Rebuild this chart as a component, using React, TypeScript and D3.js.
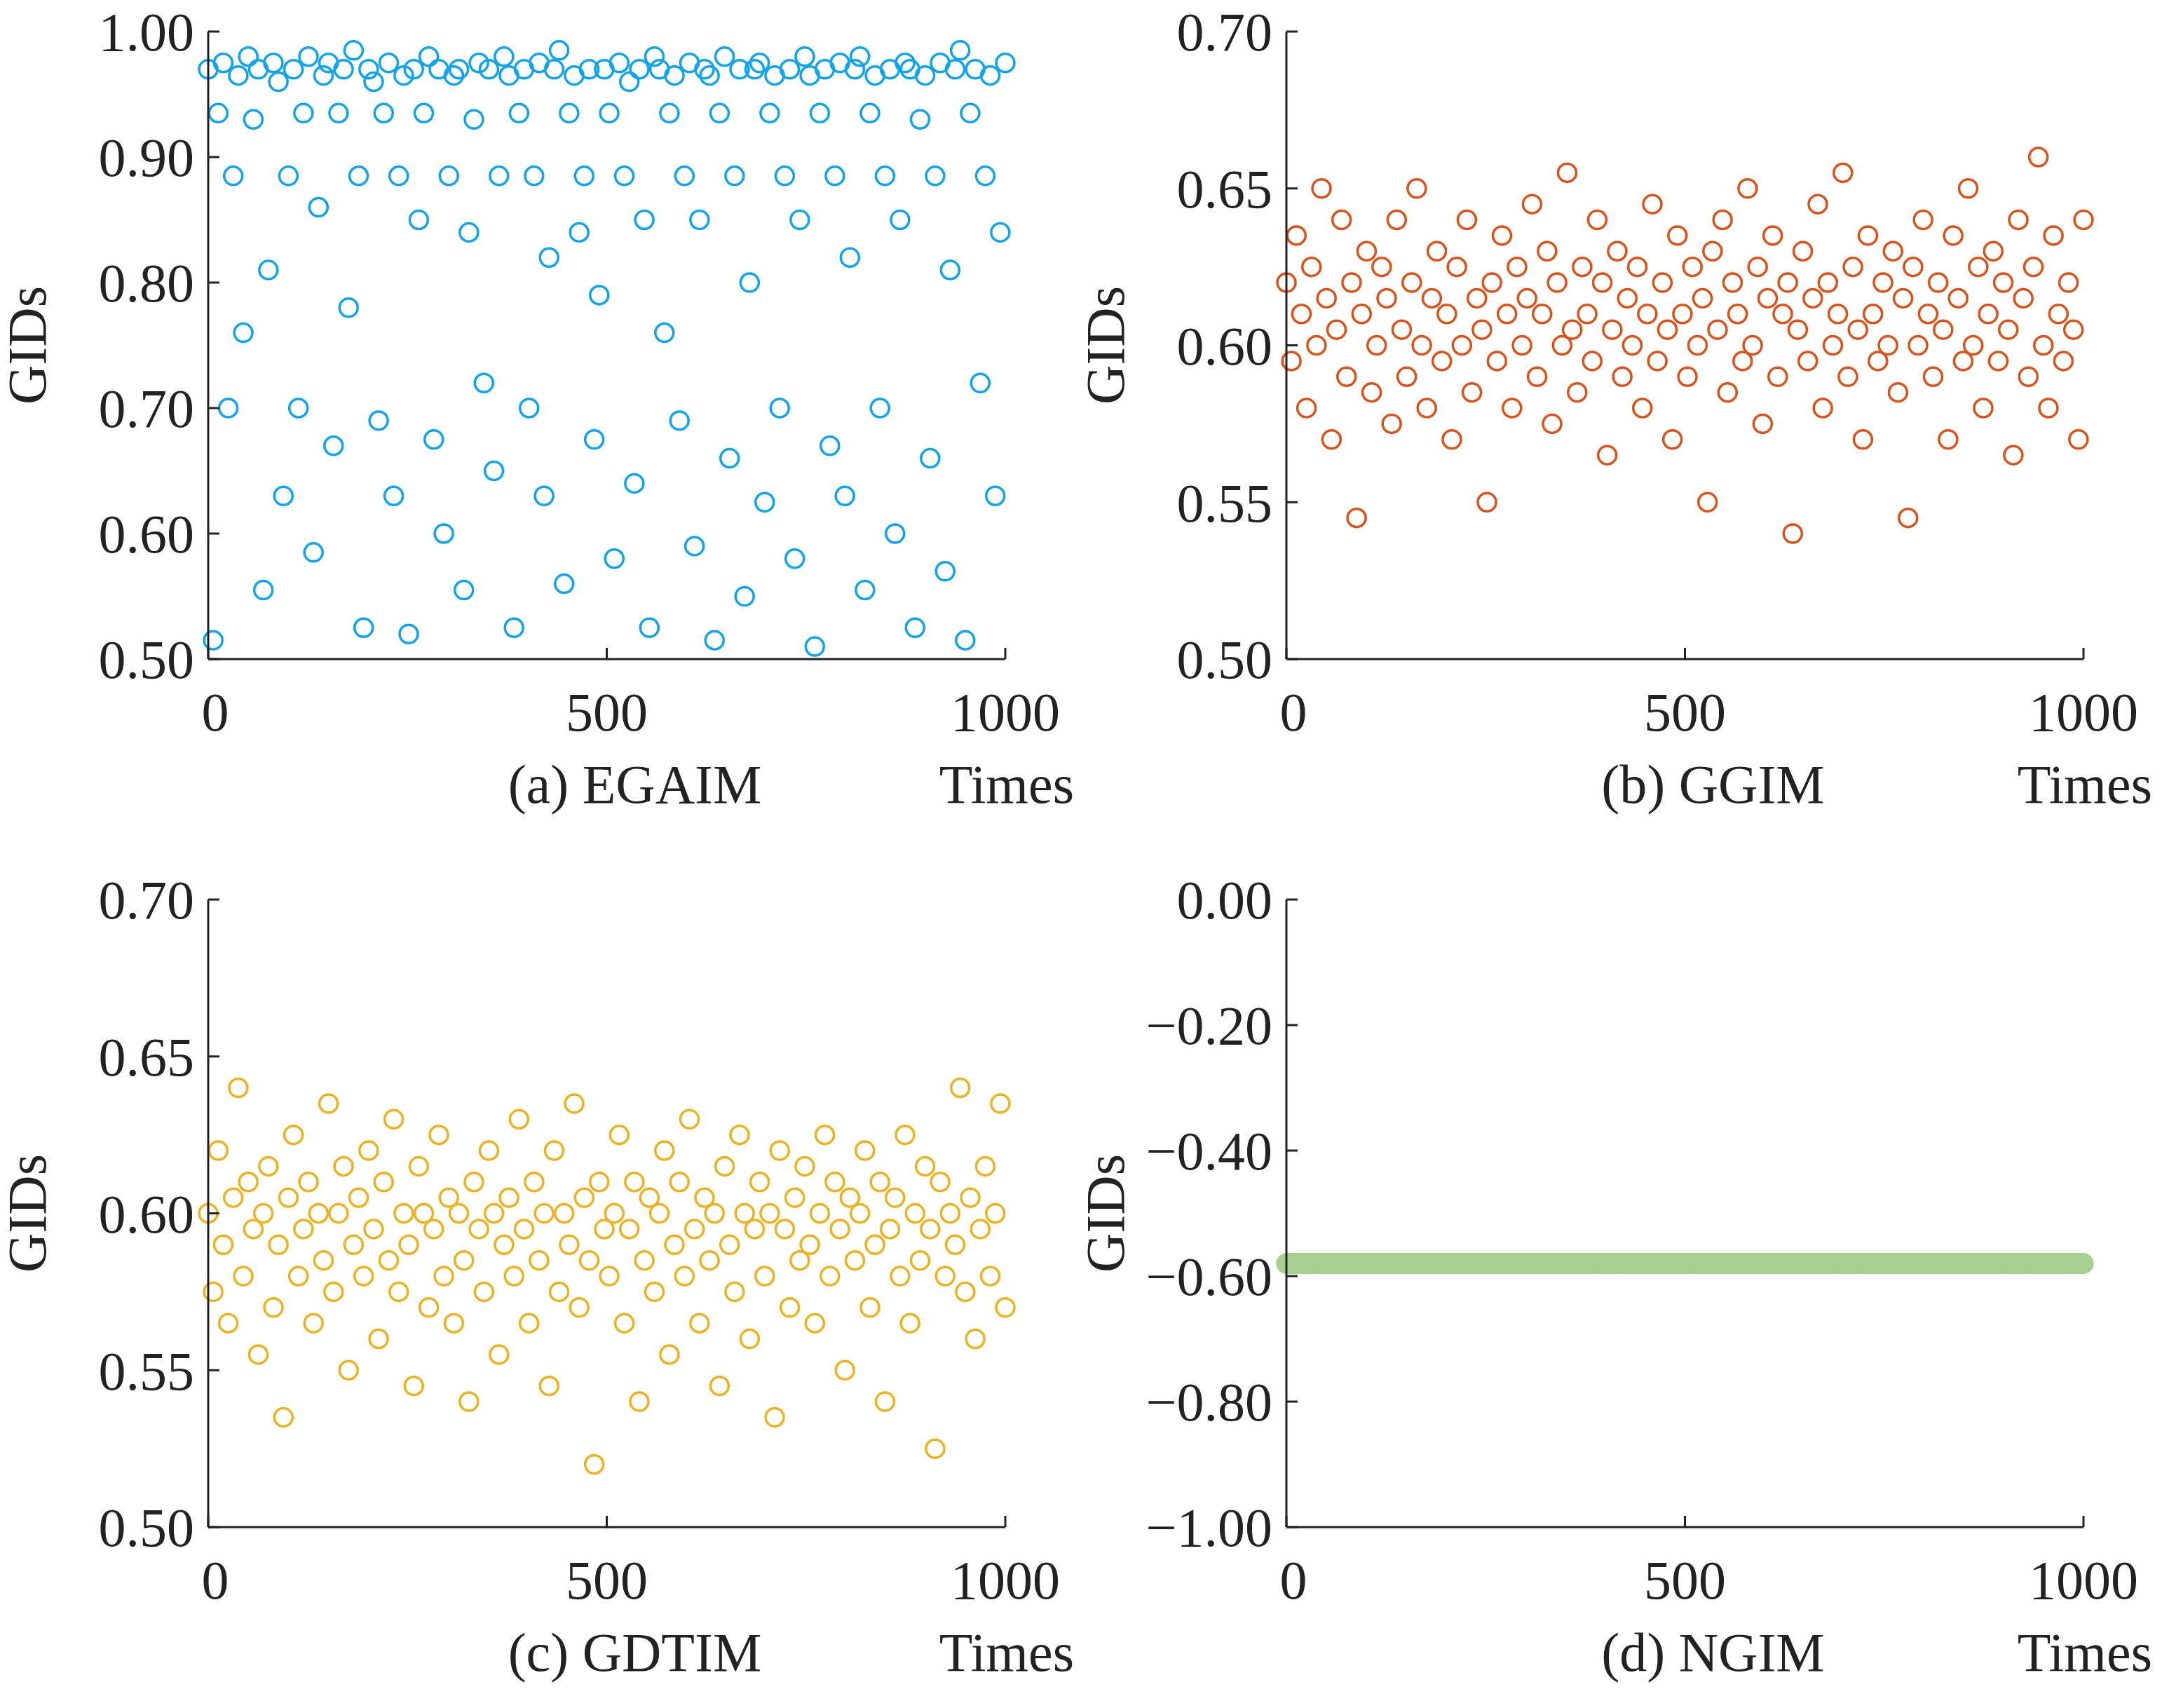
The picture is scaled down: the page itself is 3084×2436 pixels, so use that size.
import React from 'react';
import * as d3 from 'd3';

const EGAIM = [0.97,0.515,0.935,0.975,0.70,0.885,0.965,0.76,0.98,0.93,
0.97,0.555,0.81,0.975,0.96,0.63,0.885,0.97,0.70,0.935,
0.98,0.585,0.86,0.965,0.975,0.67,0.935,0.97,0.78,0.985,
0.885,0.525,0.97,0.96,0.69,0.935,0.975,0.63,0.885,0.965,
0.52,0.97,0.85,0.935,0.98,0.675,0.97,0.60,0.885,0.965,
0.97,0.555,0.84,0.93,0.975,0.72,0.97,0.65,0.885,0.98,
0.965,0.525,0.935,0.97,0.70,0.885,0.975,0.63,0.82,0.97,
0.985,0.56,0.935,0.965,0.84,0.885,0.97,0.675,0.79,0.97,
0.935,0.58,0.975,0.885,0.96,0.64,0.97,0.85,0.525,0.98,
0.97,0.76,0.935,0.965,0.69,0.885,0.975,0.59,0.85,0.97,
0.965,0.515,0.935,0.98,0.66,0.885,0.97,0.55,0.80,0.97,
0.975,0.625,0.935,0.965,0.70,0.885,0.97,0.58,0.85,0.98,
0.965,0.51,0.935,0.97,0.67,0.885,0.975,0.63,0.82,0.97,
0.98,0.555,0.935,0.965,0.70,0.885,0.97,0.60,0.85,0.975,
0.97,0.525,0.93,0.965,0.66,0.885,0.975,0.57,0.81,0.97,
0.985,0.515,0.935,0.97,0.72,0.885,0.965,0.63,0.84,0.975];

const GGIM = [0.62,0.595,0.635,0.61,0.58,0.625,0.60,0.65,0.615,0.57,
0.605,0.64,0.59,0.62,0.545,0.61,0.63,0.585,0.60,0.625,
0.615,0.575,0.64,0.605,0.59,0.62,0.65,0.60,0.58,0.615,
0.63,0.595,0.61,0.57,0.625,0.60,0.64,0.585,0.615,0.605,
0.55,0.62,0.595,0.635,0.61,0.58,0.625,0.60,0.615,0.645,
0.59,0.61,0.63,0.575,0.62,0.60,0.655,0.605,0.585,0.625,
0.61,0.595,0.64,0.62,0.565,0.605,0.63,0.59,0.615,0.60,
0.625,0.58,0.61,0.645,0.595,0.62,0.605,0.57,0.635,0.61,
0.59,0.625,0.60,0.615,0.55,0.63,0.605,0.64,0.585,0.62,
0.61,0.595,0.65,0.60,0.625,0.575,0.615,0.635,0.59,0.61,
0.62,0.54,0.605,0.63,0.595,0.615,0.645,0.58,0.62,0.60,
0.61,0.655,0.59,0.625,0.605,0.57,0.635,0.61,0.595,0.62,
0.60,0.63,0.585,0.615,0.545,0.625,0.60,0.64,0.61,0.59,
0.62,0.605,0.57,0.635,0.615,0.595,0.65,0.60,0.625,0.58,
0.61,0.63,0.595,0.62,0.605,0.565,0.64,0.615,0.59,0.625,
0.66,0.60,0.58,0.635,0.61,0.595,0.62,0.605,0.57,0.64];

const GDTIM = [0.60,0.575,0.62,0.59,0.565,0.605,0.64,0.58,0.61,0.595,
0.555,0.60,0.615,0.57,0.59,0.535,0.605,0.625,0.58,0.595,
0.61,0.565,0.60,0.585,0.635,0.575,0.60,0.615,0.55,0.59,
0.605,0.58,0.62,0.595,0.56,0.61,0.585,0.63,0.575,0.60,
0.59,0.545,0.615,0.60,0.57,0.595,0.625,0.58,0.605,0.565,
0.60,0.585,0.54,0.61,0.595,0.575,0.62,0.60,0.555,0.59,
0.605,0.58,0.63,0.595,0.565,0.61,0.585,0.60,0.545,0.62,
0.575,0.60,0.59,0.635,0.57,0.605,0.585,0.52,0.61,0.595,
0.58,0.60,0.625,0.565,0.595,0.61,0.54,0.585,0.605,0.575,
0.60,0.62,0.555,0.59,0.61,0.58,0.63,0.595,0.565,0.605,
0.585,0.60,0.545,0.615,0.59,0.575,0.625,0.60,0.56,0.595,
0.61,0.58,0.60,0.535,0.62,0.595,0.57,0.605,0.585,0.615,
0.59,0.565,0.60,0.625,0.58,0.61,0.595,0.55,0.605,0.585,
0.60,0.62,0.57,0.59,0.61,0.54,0.595,0.605,0.58,0.625,
0.565,0.60,0.585,0.615,0.595,0.525,0.61,0.58,0.60,0.59,
0.64,0.575,0.605,0.56,0.595,0.615,0.58,0.60,0.635,0.57];

const NGIM_VALUE = -0.58;
const NGIM = d3.range(1000).map(() => NGIM_VALUE);

const X_TICKS = [0, 500, 1000];

interface PanelDef {
  values: number[];
  title: string;
  color: string;
  yDomain: [number, number];
  yTicks: number[];
  left: number;
  top: number;
}

const W = 1137;
const H = 895;
const FONT = '"Liberation Serif", "Times New Roman", serif';
const FS = 78;

const Panel: React.FC<PanelDef> = ({ values, title, color, yDomain, yTicks, left, top }) => {
  const x = d3.scaleLinear().domain([0, 1000]).range([0, W]);
  const y = d3.scaleLinear().domain(yDomain).range([H, 0]);
  const n = values.length;
  const fmt = d3.format('.2f');
  return (
    <g transform={`translate(${left},${top})`}>
      {values.map((v, i) => (
        <circle key={i} cx={x((i * 1000) / (n - 1))} cy={y(v)} r={13}
          fill="none" stroke={color} strokeWidth={3.5} />
      ))}
      <line x1={0} x2={0} y1={0} y2={H} stroke="#222" strokeWidth={3} />
      <line x1={0} x2={W} y1={H} y2={H} stroke="#222" strokeWidth={3} />
      {yTicks.map((t) => (
        <g key={t} transform={`translate(0,${y(t)})`}>
          <line x1={0} x2={16} stroke="#222" strokeWidth={3} />
          <text x={-20} dy="0.35em" textAnchor="end" fontSize={FS} fontFamily={FONT} fill="#222">{fmt(t)}</text>
        </g>
      ))}
      {X_TICKS.map((t) => (
        <g key={t} transform={`translate(${x(t)},${H})`}>
          <line y1={0} y2={-16} stroke="#222" strokeWidth={3} />
          <text x={t === 0 ? 10 : 0} y={102} textAnchor="middle" fontSize={FS} fontFamily={FONT} fill="#222">{t}</text>
        </g>
      ))}
      <text x={W / 2 + 40} y={H + 205} textAnchor="middle" fontSize={FS} fontFamily={FONT} fill="#222">{title}</text>
      <text x={W + 98} y={H + 205} textAnchor="end" fontSize={FS} fontFamily={FONT} fill="#222">Times</text>
      <text transform={`translate(${-232},${H / 2}) rotate(-90)`} textAnchor="middle" fontSize={FS} fontFamily={FONT} fill="#222">GIDs</text>
    </g>
  );
};

const App: React.FC = () => {
  const t1 = d3.range(0.5, 1.001, 0.1);
  const t2 = d3.range(0.5, 0.701, 0.05);
  const t4 = d3.range(-1, 0.001, 0.2);
  return (
    <svg width={3084} height={2436} style={{ position: 'absolute', left: 0, top: 0, background: '#fff' }}>
      <rect width={3084} height={2436} fill="#fff" />
      <Panel values={EGAIM} title="(a) EGAIM" color="#12a4ea" yDomain={[0.5, 1]} yTicks={t1} left={297} top={45} />
      <Panel values={GGIM} title="(b) GGIM" color="#d9541c" yDomain={[0.5, 0.7]} yTicks={t2} left={1835} top={45} />
      <Panel values={GDTIM} title="(c) GDTIM" color="#edb222" yDomain={[0.5, 0.7]} yTicks={t2} left={297} top={1283} />
      <Panel values={NGIM} title="(d) NGIM" color="#a7d08f" yDomain={[-1, 0]} yTicks={t4} left={1835} top={1283} />
    </svg>
  );
};

export default App;
